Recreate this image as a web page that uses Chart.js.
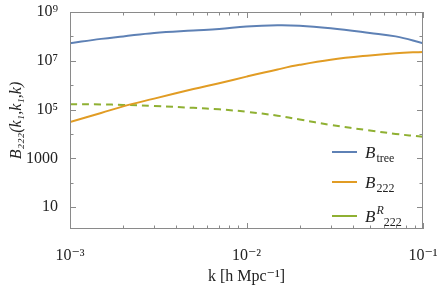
<!DOCTYPE html>
<html lang="en">
<head>
    <meta charset="UTF-8">
    <title>B222 bispectrum</title>
    <script src="https://cdn.jsdelivr.net/npm/chart.js"></script>
    <style>
        body { margin: 0; background: #ffffff; }
        canvas { display: block; }
    </style>
</head>
<body>
    <canvas id="chart" width="441" height="292"></canvas>
    <script>
        // values (log-log)
        const kValues = [0.001, 0.0015, 0.002, 0.003, 0.005, 0.007, 0.01, 0.015, 0.02, 0.03, 0.05, 0.07, 0.1];
        const bTree = [5.25e7, 7.9e7, 1.0e8, 1.38e8, 1.74e8, 2.0e8, 2.57e8, 2.88e8, 2.75e8, 2.14e8, 1.38e8, 1.0e8, 5.25e7];
        const b222 = [3.1e4, 7.2e4, 1.35e5, 2.8e5, 6.9e5, 1.2e6, 2.24e6, 4.4e6, 6.8e6, 1.1e7, 1.66e7, 2.04e7, 2.3e7];
        const bR222 = [1.66e5, 1.62e5, 1.55e5, 1.41e5, 1.17e5, 1.02e5, 8.1e4, 5.6e4, 3.9e4, 2.34e4, 1.38e4, 1.0e4, 7.6e3];

        const xTicks = [0.001, 0.01, 0.1];
        const xTickLabels = ['10⁻³', '10⁻²', '10⁻¹'];
        const yTicks = [10, 1000, 1e5, 1e7, 1e9];
        const yTickLabels = ['10', '1000', '10⁵', '10⁷', '10⁹'];

        const blue = '#5e81b5';
        const orange = '#e19c24';
        const green = '#8fb032';
        const serif = "'Liberation Serif', 'DejaVu Serif', serif";

        const toPoints = arr => kValues.map((k, i) => ({ x: k, y: arr[i] }));

        // frame + inward ticks, mathematica style
        const framePlugin = {
            id: 'frame',
            afterDatasetsDraw(chart) {
                const { ctx, chartArea: a, scales } = chart;
                ctx.save();
                ctx.strokeStyle = '#8a8a8a';
                ctx.lineWidth = 1;
                ctx.strokeRect(a.left + 0.5, a.top + 0.5, a.right - a.left - 1, a.bottom - a.top - 1);
                ctx.beginPath();
                for (let e = -3; e <= -1; e++) {
                    for (let m = 1; m <= 9; m++) {
                        const v = m * Math.pow(10, e);
                        if (v > 0.1 * 1.0001) break;
                        const px = Math.round(scales.x.getPixelForValue(v)) + 0.5;
                        const len = m === 1 ? 6 : 3.5;
                        ctx.moveTo(px, a.bottom); ctx.lineTo(px, a.bottom - len);
                        ctx.moveTo(px, a.top); ctx.lineTo(px, a.top + len);
                    }
                }
                for (let e = 1; e <= 9; e++) {
                    const py = Math.round(scales.y.getPixelForValue(Math.pow(10, e))) + 0.5;
                    const len = e % 2 === 1 ? 6 : 3.5;
                    ctx.moveTo(a.left, py); ctx.lineTo(a.left + len, py);
                    ctx.moveTo(a.right, py); ctx.lineTo(a.right - len, py);
                }
                ctx.stroke();

                // legend inside the plot, bottom right
                const items = [
                    { color: blue, sub: 'tree', sup: '' },
                    { color: orange, sub: '222', sup: '' },
                    { color: green, sub: '222', sup: 'R' }
                ];
                const offsets = [77, 47, 13];
                items.forEach((it, i) => {
                    const y = a.bottom - offsets[i];
                    const x0 = a.right - 91;
                    ctx.strokeStyle = it.color;
                    ctx.lineWidth = 2;
                    ctx.beginPath();
                    ctx.moveTo(x0, y); ctx.lineTo(x0 + 25, y);
                    ctx.stroke();
                    ctx.fillStyle = '#222';
                    ctx.textBaseline = 'alphabetic';
                    ctx.font = 'italic 17px ' + serif;
                    let tx = x0 + 33;
                    ctx.fillText('B', tx, y + 6);
                    tx += ctx.measureText('B').width + 1;
                    if (it.sup) {
                        ctx.font = 'italic 12px ' + serif;
                        ctx.fillText(it.sup, tx, y - 2);
                        tx += ctx.measureText(it.sup).width;
                    }
                    ctx.font = '12px ' + serif;
                    ctx.fillText(it.sub, tx, y + 10);
                });
                ctx.restore();
            }
        };

        new Chart(document.getElementById('chart'), {
            type: 'line',
            data: {
                datasets: [
                    { label: 'B_tree', data: toPoints(bTree), borderColor: blue },
                    { label: 'B_222', data: toPoints(b222), borderColor: orange },
                    { label: 'B^R_222', data: toPoints(bR222), borderColor: green, borderDash: [7, 5] }
                ]
            },
            options: {
                responsive: false,
                animation: false,
                layout: { padding: { top: 12, right: 18, left: 0, bottom: 0 } },
                elements: {
                    point: { radius: 0 },
                    line: { borderWidth: 2, tension: 0.4, fill: false }
                },
                scales: {
                    x: {
                        type: 'logarithmic',
                        min: 0.001,
                        max: 0.1,
                        grid: { display: false },
                        border: { display: false },
                        afterBuildTicks: s => { s.ticks = xTicks.map(v => ({ value: v })); },
                        afterFit: s => { s.height = 63; s.paddingLeft = 0; s.paddingRight = 0; },
                        ticks: {
                            color: '#222',
                            font: { family: serif, size: 16 },
                            padding: 9,
                            maxRotation: 0,
                            callback: v => xTickLabels[xTicks.indexOf(v)]
                        },
                        title: {
                            display: true,
                            text: 'k [h Mpc⁻¹]',
                            color: '#222',
                            font: { family: serif, size: 16 },
                            padding: { top: 0, bottom: 6 }
                        }
                    },
                    y: {
                        type: 'logarithmic',
                        min: 1.26,
                        max: 1e9,
                        grid: { display: false },
                        border: { display: false },
                        afterBuildTicks: s => { s.ticks = yTicks.map(v => ({ value: v })); },
                        afterFit: s => { s.width = 70; s.paddingTop = 0; s.paddingBottom = 0; },
                        ticks: {
                            color: '#222',
                            font: { family: serif, size: 16 },
                            padding: 4,
                            callback: v => yTickLabels[yTicks.indexOf(v)]
                        },
                        title: {
                            display: true,
                            text: 'B₂₂₂(k₁,k₁,k)',
                            color: '#222',
                            font: { family: serif, size: 16, style: 'italic' },
                            padding: { top: 7, bottom: 0 }
                        }
                    }
                },
                plugins: {
                    legend: { display: false },
                    tooltip: { enabled: false }
                }
            },
            plugins: [framePlugin]
        });
    </script>
</body>
</html>
